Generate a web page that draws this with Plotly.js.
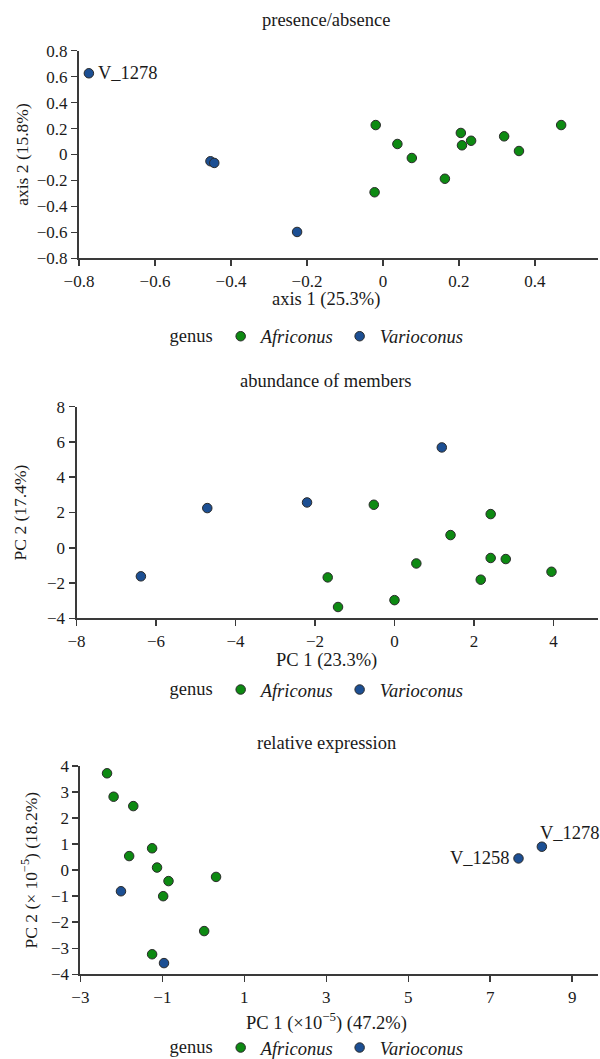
<!DOCTYPE html>
<html>
<head>
<meta charset="utf-8">
<script src="https://cdn.plot.ly/plotly-3.0.1.min.js"></script>
<style>html,body{margin:0;padding:0;background:#fff;} #chart{width:600px;height:1059px;}</style>
</head>
<body>
<div id="chart"></div>
<script>
// ---------- data ----------
// Panel 1: presence/absence
const paAfrX = [-0.019, 0.038, 0.076, -0.022, 0.163, 0.205, 0.208, 0.232, 0.319, 0.358, 0.469];
const paAfrY = [0.227, 0.081, -0.027, -0.291, -0.187, 0.166, 0.071, 0.106, 0.140, 0.027, 0.227];
const paVarX = [-0.774, -0.454, -0.444, -0.226];
const paVarY = [0.626, -0.052, -0.065, -0.597];
const paVarLabel = ['V_1278', '', '', ''];

// Panel 2: abundance of members
const abAfrX = [-0.52, 2.42, 1.41, 0.55, 2.42, 2.80, 3.95, 2.17, -1.68, -1.42, 0.00];
const abAfrY = [2.44, 1.91, 0.72, -0.89, -0.58, -0.64, -1.36, -1.81, -1.68, -3.36, -2.97];
const abVarX = [-6.38, -4.71, -2.20, 1.19];
const abVarY = [-1.62, 2.25, 2.57, 5.69];

// Panel 3: relative expression
const reAfrX = [-2.35, -2.19, -1.71, -1.25, -1.81, -1.13, -0.85, -0.98, 0.31, 0.02, -1.25];
const reAfrY = [3.72, 2.82, 2.46, 0.84, 0.54, 0.10, -0.42, -1.00, -0.26, -2.34, -3.23];
const reVarX = [-2.01, -0.96, 7.69, 8.26];
const reVarY = [-0.81, -3.57, 0.45, 0.90];
const reVarLabel = ['', '', 'V_1258', 'V_1278'];

const genusNames = ['Africonus', 'Varioconus'];
const panelTitles = ['presence/absence', 'abundance of members', 'relative expression'];
const xTitles = ['axis 1 (25.3%)', 'PC 1 (23.3%)', 'PC 1 (×10<sup>−5</sup>) (47.2%)'];
const yTitles = ['axis 2 (15.8%)', 'PC 2 (17.4%)', 'PC 2 (× 10<sup>−5</sup>) (18.2%)'];

// ---------- style ----------
const FONT = 'Liberation Serif, Times New Roman, serif';
const GREEN = '#0d8a12';
const BLUE = '#1c4f93';
const EDGE = '#2a2a2a';
const AXC = '#3a3a3a';
const FS = 17;
const FT = 18.5;

function mk(x, y, name, color, xa, ya, leg, show) {
  return {
    type: 'scatter', mode: 'markers', x: x, y: y,
    name: '<i>' + name + '</i>',
    xaxis: xa, yaxis: ya, legend: leg, showlegend: show,
    marker: {color: color, size: 9.5, line: {color: EDGE, width: 1}},
    cliponaxis: false, hoverinfo: 'skip'
  };
}

const traces = [
  mk(paAfrX, paAfrY, genusNames[0], GREEN, 'x', 'y', 'legend', true),
  mk(paVarX, paVarY, genusNames[1], BLUE, 'x', 'y', 'legend', true),
  mk(abAfrX, abAfrY, genusNames[0], GREEN, 'x2', 'y2', 'legend2', true),
  mk(abVarX, abVarY, genusNames[1], BLUE, 'x2', 'y2', 'legend2', true),
  mk(reAfrX, reAfrY, genusNames[0], GREEN, 'x3', 'y3', 'legend3', true),
  mk(reVarX, reVarY, genusNames[1], BLUE, 'x3', 'y3', 'legend3', true)
];

function ax(domain, range, tick0, dtick, anchor, title, standoff, tsize) {
  const a = {
    domain: domain, range: range, tick0: tick0, dtick: dtick, anchor: anchor,
    showline: true, linecolor: AXC, linewidth: 2, ticks: 'outside', ticklen: 6,
    tickwidth: 1.5, tickcolor: AXC, showgrid: false, zeroline: false,
    tickfont: {family: FONT, size: FS, color: '#1a1a1a'},
    automargin: false, fixedrange: true
  };
  if (title) a.title = {text: title, font: {family: FONT, size: tsize, color: '#1a1a1a'}, standoff: standoff};
  return a;
}

function legendAt(y) {
  return {
    orientation: 'h', x: 0.53, xanchor: 'center', y: y, yanchor: 'middle',
    title: {text: 'genus', side: 'left', font: {family: FONT, size: FT, color: '#1a1a1a'}},
    font: {family: FONT, size: FT, color: '#1a1a1a'},
    bgcolor: 'rgba(0,0,0,0)', itemclick: false, itemdoubleclick: false,
    tracegroupgap: 0
  };
}

const annotations = [];
const titleY = [1 - 20 / 1059, 1 - 381 / 1059, 1 - 743 / 1059];
const xTitleY = [1 - 299 / 1059, 1 - 660 / 1059, 1 - 1021 / 1059];
panelTitles.forEach(function (t, i) {
  annotations.push({
    text: t, xref: 'paper', yref: 'paper', x: 326 / 600, y: titleY[i],
    xanchor: 'center', yanchor: 'middle', showarrow: false,
    font: {family: FONT, size: FT, color: '#1a1a1a'}
  });
  annotations.push({
    text: xTitles[i], xref: 'paper', yref: 'paper', x: 326 / 600, y: xTitleY[i],
    xanchor: 'center', yanchor: 'middle', showarrow: false,
    font: {family: FONT, size: FT, color: '#1a1a1a'}
  });
});
paVarLabel.forEach(function (lab, i) {
  if (!lab) return;
  annotations.push({text: lab, xref: 'x', yref: 'y', x: paVarX[i], y: paVarY[i],
    xanchor: 'left', yanchor: 'middle', xshift: 7, showarrow: false,
    font: {family: FONT, size: FT, color: '#1a1a1a'}});
});
reVarLabel.forEach(function (lab, i) {
  if (!lab) return;
  const left = lab === 'V_1258';
  annotations.push({text: lab, xref: 'x3', yref: 'y3', x: reVarX[i], y: reVarY[i],
    xanchor: left ? 'right' : 'left', yanchor: 'middle',
    xshift: left ? -7 : -4, yshift: left ? 0 : 14, showarrow: false,
    font: {family: FONT, size: FT, color: '#1a1a1a'}});
});

const layout = {
  width: 600, height: 1059,
  margin: {l: 0, r: 0, t: 0, b: 0, autoexpand: false},
  paper_bgcolor: '#ffffff', plot_bgcolor: '#ffffff',
  font: {family: FONT, size: FS, color: '#1a1a1a'},
  hovermode: false,
  xaxis: ax([79 / 600, 598 / 600], [-0.8, 0.566], -0.8, 0.2, 'y', null),
  yaxis: ax([1 - 258.3 / 1059, 1 - 50.7 / 1059], [-0.8, 0.8], -0.8, 0.2, 'x', yTitles[0], 4, 17.5),
  xaxis2: ax([76.5 / 600, 598 / 600], [-8, 5.12], -8, 2, 'y2', null),
  yaxis2: ax([1 - 618.3 / 1059, 1 - 406.7 / 1059], [-4, 8], -4, 2, 'x2', yTitles[1], 16, 17.5),
  xaxis3: ax([80.4 / 600, 598 / 600], [-3, 9.63], -3, 2, 'y3', null),
  yaxis3: ax([1 - 974.3 / 1059, 1 - 766 / 1059], [-4, 4], -4, 1, 'x3', yTitles[2], 9, 17.5),
  legend: legendAt(1 - 336.7 / 1059),
  legend2: legendAt(1 - 690 / 1059),
  legend3: legendAt(1 - 1048 / 1059),
  annotations: annotations,
  showlegend: true
};

Plotly.newPlot('chart', traces, layout, {staticPlot: true, displayModeBar: false});
</script>
</body>
</html>
